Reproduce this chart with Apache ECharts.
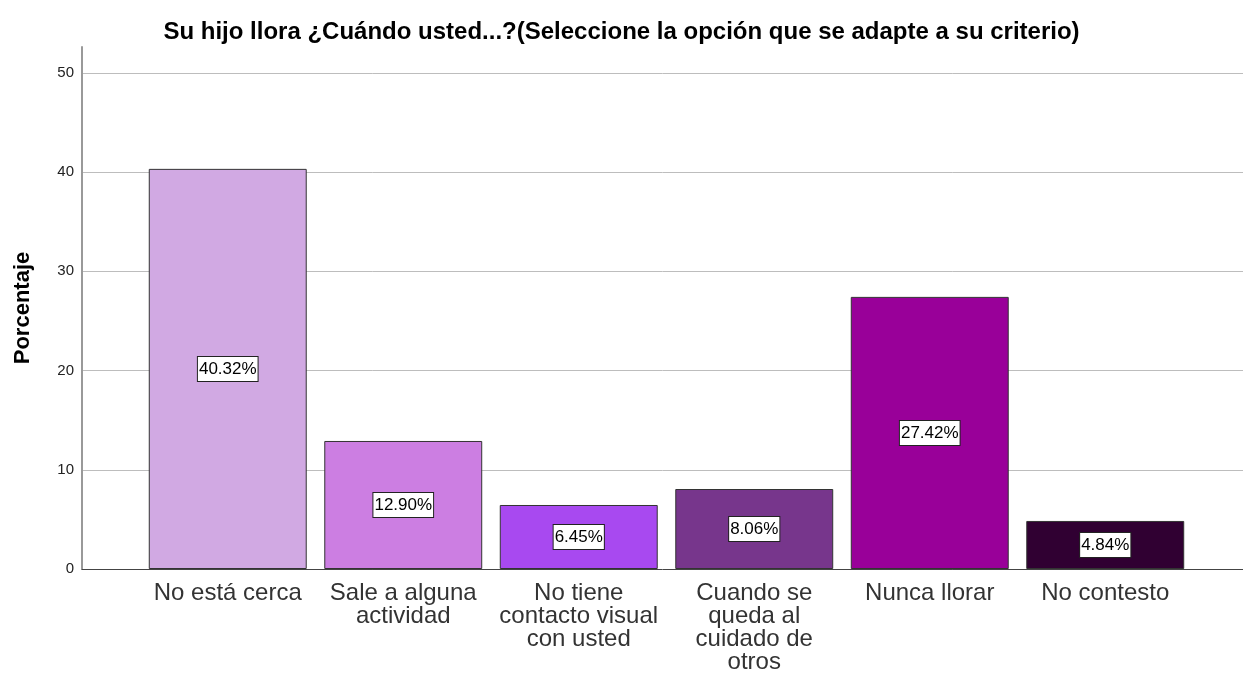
<!DOCTYPE html>
<html>
<head>
<meta charset="utf-8">
<script src="https://cdn.jsdelivr.net/npm/echarts@6/dist/echarts.min.js"></script>
<style>
  html, body { margin: 0; padding: 0; background: #fff; }
  #chart { width: 1243px; height: 677px; }
</style>
</head>
<body>
<div id="chart"></div>
<script>
const categories = [
  'No está cerca',
  'Sale a alguna\nactividad',
  'No tiene\ncontacto visual\ncon usted',
  'Cuando se\nqueda al\ncuidado de\notros',
  'Nunca llorar',
  'No contesto'
];
const percentages = [40.32, 12.90, 6.45, 8.06, 27.42, 4.84];
const barColors = ['#D1A9E3', '#CC7EE2', '#A849F0', '#77368C', '#990099', '#300032'];
const yTicks = { min: 0, max: 52.6, step: 10 };

const font = '"Liberation Sans", Arial, sans-serif';
const chart = echarts.init(document.getElementById('chart'));

chart.setOption({
  backgroundColor: '#fff',
  animation: false,
  title: {
    text: 'Su hijo llora ¿Cuándo usted...?(Seleccione la opción que se adapte a su criterio)',
    left: 'center',
    top: 15,
    textStyle: { fontFamily: font, fontSize: 24, fontWeight: 'bold', color: '#000' }
  },
  // grid 0: frame, gridlines and y axis; grid 1: the bars (SPSS pads the categories)
  grid: [
    { left: 82, right: 0, top: 47, bottom: 108 },
    { left: 140, right: 50, top: 47, bottom: 108 }
  ],
  xAxis: [
    {
      gridIndex: 0, type: 'value', min: 0, max: 1,
      axisLine: { show: true, onZero: false, lineStyle: { color: '#444', width: 1 } },
      axisTick: { show: false }, axisLabel: { show: false }, splitLine: { show: false }
    },
    {
      gridIndex: 1, type: 'category', data: categories,
      axisLine: { show: false }, axisTick: { show: false },
      axisLabel: {
        interval: 0, margin: 13, fontFamily: font, fontSize: 24, color: '#333', lineHeight: 23
      }
    }
  ],
  yAxis: [
    {
      gridIndex: 0, type: 'value', min: yTicks.min, max: yTicks.max, interval: yTicks.step,
      name: 'Porcentaje', nameLocation: 'middle', nameGap: 48,
      nameTextStyle: { fontFamily: font, fontSize: 22, fontWeight: 'bold', color: '#000' },
      axisLine: { show: true, lineStyle: { color: '#999', width: 2 } },
      axisTick: { show: false },
      axisLabel: { fontFamily: font, fontSize: 15, color: '#222', margin: 8, showMaxLabel: false },
      splitLine: { show: true, showMinLine: false, showMaxLine: false, lineStyle: { color: '#BDBDBD', width: 1 } }
    },
    {
      gridIndex: 1, type: 'value', min: yTicks.min, max: yTicks.max, interval: yTicks.step,
      show: false, splitLine: { show: false }
    }
  ],
  series: [{
    type: 'bar',
    xAxisIndex: 1,
    yAxisIndex: 1,
    barCategoryGap: '10%',
    data: percentages.map((v, i) => ({
      value: v,
      itemStyle: { color: barColors[i], borderColor: '#333', borderWidth: 1 }
    })),
    label: {
      show: true,
      position: 'inside',
      formatter: p => p.value.toFixed(2) + '%',
      fontFamily: font,
      fontSize: 17,
      color: '#000',
      backgroundColor: '#fff',
      borderColor: '#222',
      borderWidth: 1,
      padding: [4, 1, 3, 1]
    }
  }]
});
</script>
</body>
</html>
